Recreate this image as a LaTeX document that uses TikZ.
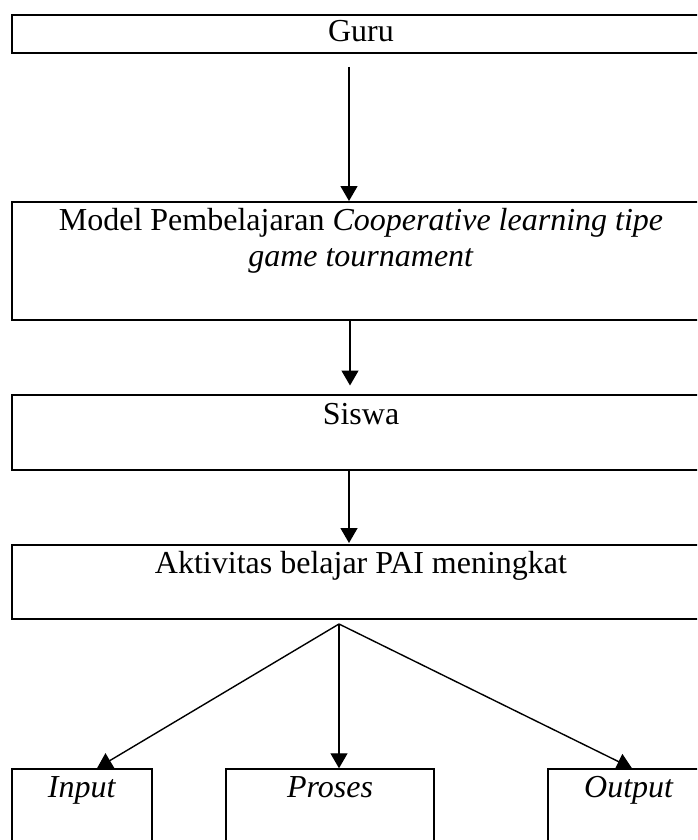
\documentclass[tikz,border=0pt]{standalone}
\usepackage{fontspec}
\setmainfont{Liberation Serif}
\usetikzlibrary{arrows.meta}
\begin{document}
\begin{tikzpicture}[x=1pt,y=1pt,
  bigbox/.style={draw=black, line width=2pt, inner sep=0pt, minimum width=698pt},
  smallbox/.style={draw=black, line width=1.5pt, inner sep=0pt, minimum height=90pt},
  txt/.style={inner sep=0pt, anchor=base, font=\fontsize{32}{36}\selectfont},
  arr/.style={line width=1.4pt, -{Triangle[length=15pt,width=17pt]}}]
\useasboundingbox (0,0) rectangle (697,-840);
\clip (0,0) rectangle (697,-840);
% boxes
\node[bigbox, minimum height=38pt] (guru) at (361,-34) {};
\node[bigbox, minimum height=118pt] (model) at (361,-261) {};
\node[bigbox, minimum height=75pt] (siswa) at (361,-432) {};
\node[bigbox, minimum height=74pt] (akt) at (361,-582) {};
\node[smallbox, minimum width=140pt] (input) at (82,-814) {};
\node[smallbox, minimum width=208pt] (proses) at (330,-814) {};
\node[smallbox, minimum width=162pt] (output) at (629,-814) {};
% texts
\node[txt] (tguru) at ([yshift=-28pt]guru.north) {Guru};
\node[txt] (tmodel1) at ([yshift=-29pt]model.north) {Model Pembelajaran \textit{Cooperative learning tipe}};
\node[txt] (tmodel2) at ([yshift=-65pt]model.north) {\textit{game tournament}};
\node[txt] (tsiswa) at ([yshift=-31pt]siswa.north) {Siswa};
\node[txt] (takt) at ([yshift=-29pt]akt.north) {Aktivitas belajar PAI meningkat};
\node[txt] (tinput) at ([yshift=-29pt]input.north) {\textit{Input}};
\node[txt] (tproses) at ([yshift=-29pt]proses.north) {\textit{Proses}};
\node[txt] (toutput) at ([yshift=-29pt]output.north) {\textit{Output}};
% connectors
\coordinate (fan) at ([xshift=-22pt,yshift=-4pt]akt.south);
\draw[arr] ([xshift=-12pt,yshift=-13pt]guru.south) -- ([xshift=-12pt]model.north);
\draw[arr] ([xshift=-11pt]model.south) -- ([xshift=-11pt,yshift=8pt]siswa.north);
\draw[arr] ([xshift=-12pt]siswa.south) -- ([xshift=-12pt,yshift=1pt]akt.north);
\draw[arr] (fan) -- ([xshift=15pt]input.north);
\draw[arr] (fan) -- ([xshift=9pt]proses.north);
\draw[arr] (fan) -- ([xshift=3pt]output.north);
\end{tikzpicture}
\end{document}
